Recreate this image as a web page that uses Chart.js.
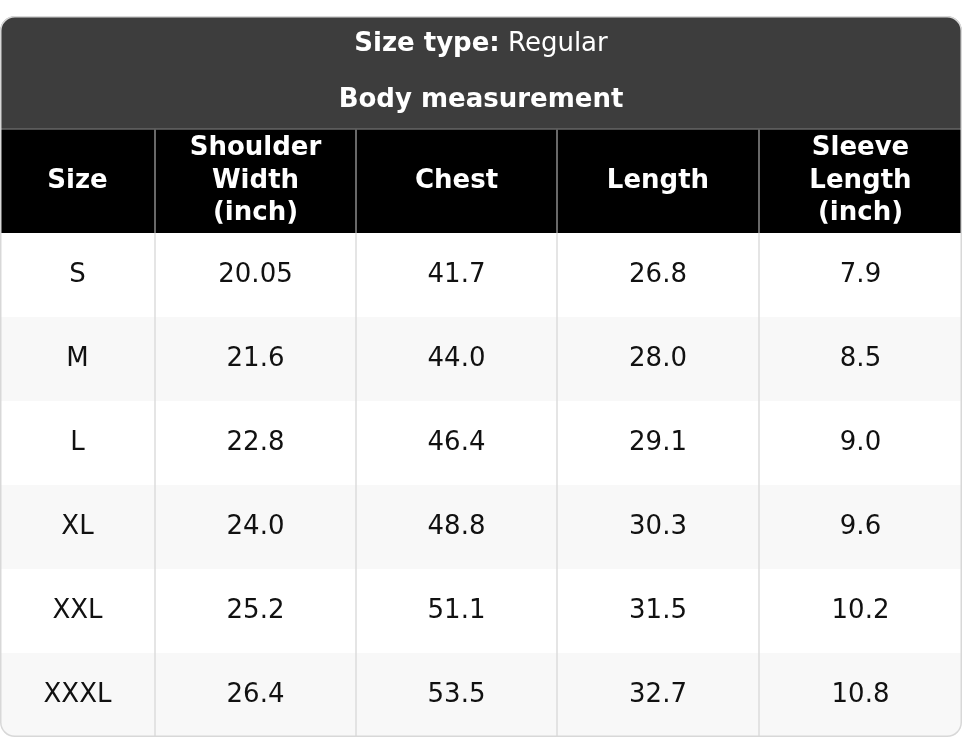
<!DOCTYPE html>
<html><head><meta charset="utf-8">
<script src="https://cdn.jsdelivr.net/npm/chart.js@4"></script>
<style>html,body{margin:0;padding:0;background:#fff}#w{width:962px;height:739px}</style>
</head><body><div id="w"><canvas id="c"></canvas></div>
<script>
const titleLabel = "Size type:";
const titleValue = " Regular";
const subtitle = "Body measurement";
const headers = [["Size"],["Shoulder","Width","(inch)"],["Chest"],["Length"],["Sleeve","Length","(inch)"]];
const sizes = ["S","M","L","XL","XXL","XXXL"];
const shoulder = ["20.05","21.6","22.8","24.0","25.2","26.4"];
const chest = ["41.7","44.0","46.4","48.8","51.1","53.5"];
const length = ["26.8","28.0","29.1","30.3","31.5","32.7"];
const sleeve = ["7.9","8.5","9.0","9.6","10.2","10.8"];

const colEdges = [0,155,356,557,759,962];
const F = "'DejaVu Sans', sans-serif";

const tablePlugin = {
  id:'table',
  afterDraw(chart){
    const ctx = chart.ctx, xs = chart.scales.x, ys = chart.scales.y;
    const X = v=>xs.getPixelForValue(v), Y = v=>ys.getPixelForValue(v);
    const L=X(0), R=X(962), T=Y(16), B=Y(737), r=14;
    ctx.save();
    ctx.beginPath(); ctx.roundRect(L+0.5,T+0.5,R-L-1,B-T-1,r); ctx.clip();
    ctx.fillStyle='#fff'; ctx.fillRect(L,T,R-L,B-T);
    ctx.fillStyle='#3d3d3d'; ctx.fillRect(L,T,R-L,Y(129)-T);
    ctx.fillStyle='#000'; ctx.fillRect(L,Y(129),R-L,Y(233)-Y(129));
    const cols=[sizes,shoulder,chest,length,sleeve];
    for(let i=0;i<sizes.length;i++){
      const y0=Y(233+84*i), y1=Y(233+84*(i+1));
      ctx.fillStyle = i%2? '#f8f8f8':'#ffffff';
      ctx.fillRect(L,y0,R-L,y1-y0);
    }
    // grid
    ctx.strokeStyle='#dcdcdc'; ctx.lineWidth=1.5;
    for(let c=1;c<colEdges.length-1;c++){
      ctx.beginPath(); ctx.moveTo(X(colEdges[c]),Y(129)); ctx.lineTo(X(colEdges[c]),B); ctx.stroke();
    }
    ctx.strokeStyle='#666'; ctx.beginPath(); ctx.moveTo(L,Y(129)); ctx.lineTo(R,Y(129)); ctx.stroke();
    ctx.strokeStyle='#555';
    for(let c=1;c<colEdges.length-1;c++){
      ctx.beginPath(); ctx.moveTo(X(colEdges[c]),Y(129)); ctx.lineTo(X(colEdges[c]),Y(233)); ctx.stroke();
    }
    // titles
    ctx.textBaseline='middle'; ctx.fillStyle='#fff';
    ctx.font='bold 26px '+F; const w1=ctx.measureText(titleLabel).width;
    ctx.font='26px '+F; const w2=ctx.measureText(titleValue).width;
    const sx=(L+R)/2-(w1+w2)/2;
    ctx.textAlign='left';
    ctx.font='bold 26px '+F; ctx.fillText(titleLabel,sx,Y(44));
    ctx.font='26px '+F; ctx.fillText(titleValue,sx+w1,Y(44));
    ctx.textAlign='center'; ctx.font='bold 26px '+F; ctx.fillText(subtitle,(L+R)/2,Y(100));
    // header
    headers.forEach((h,c)=>{
      const cx=(X(colEdges[c])+X(colEdges[c+1]))/2, cy=Y(181), lh=32.5;
      h.forEach((t,k)=>ctx.fillText(t,cx,cy+(k-(h.length-1)/2)*lh));
    });
    // body
    ctx.fillStyle='#111'; ctx.font='26px '+F;
    cols.forEach((col,c)=>{
      const cx=(X(colEdges[c])+X(colEdges[c+1]))/2;
      col.forEach((v,i)=>ctx.fillText(v,cx,Y(233+84*i+42)));
    });
    ctx.restore();
    ctx.strokeStyle='#d8d8d8'; ctx.lineWidth=1.5;
    ctx.beginPath(); ctx.roundRect(L+0.75,T+0.75,R-L-1.5,B-T-1.5,r); ctx.stroke();
  }
};

new Chart(document.getElementById('c'),{
  type:'scatter',
  data:{datasets:[{data:[]}]},
  options:{responsive:true,maintainAspectRatio:false,animation:false,
    layout:{padding:0},
    plugins:{legend:{display:false},tooltip:{enabled:false}},
    scales:{x:{type:'linear',min:0,max:962,display:false},
            y:{type:'linear',min:0,max:739,reverse:true,display:false}}},
  plugins:[tablePlugin]
});
</script></body></html>
